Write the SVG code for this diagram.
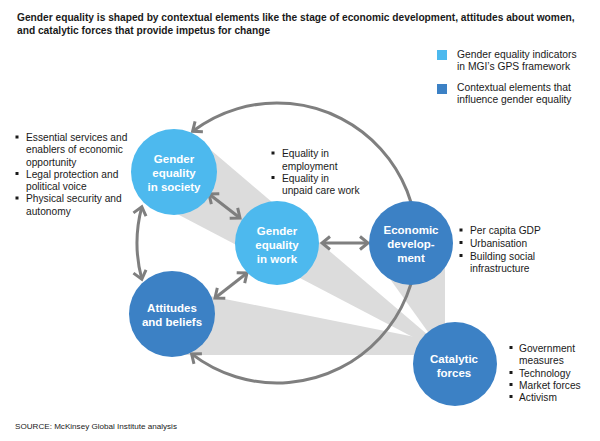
<svg xmlns="http://www.w3.org/2000/svg" width="600" height="441" viewBox="0 0 600 441">
<defs>
<style>
.t{font-family:"Liberation Sans",Arial,sans-serif;fill:#1a1a1a}
.title{font-size:10.2px;font-weight:bold}
.lg{font-size:10.3px}
.b{font-size:10.2px}
.src{font-size:8.1px}
.nl{font-family:"Liberation Sans",Arial,sans-serif;font-size:11.5px;font-weight:bold;fill:#fff;text-anchor:middle}
.light{fill:#4db9ee}
.dark{fill:#3c81c5}
.beam{fill:#dcdcdc}
.con{fill:none;stroke:#7f7f7f;stroke-width:3}
.dot{fill:#1a1a1a}
</style>
<marker id="ah" markerUnits="userSpaceOnUse" markerWidth="20" markerHeight="20" refX="0" refY="0" viewBox="-12 -10 14 20" orient="auto-start-reverse">
<path d="M -8 -6.5 L 0 0 L -8 6.5" fill="none" stroke="#7f7f7f" stroke-width="3" stroke-linejoin="miter"/>
</marker>
</defs>
<rect width="600" height="441" fill="#fff"/>
<text class="t title" x="17" y="21">Gender equality is shaped by contextual elements like the stage of economic development, attitudes about women,</text>
<text class="t title" x="17" y="34">and catalytic forces that provide impetus for change</text>
<g id="legend">
<rect class="light" x="437" y="50" width="10" height="10"/>
<text class="t lg" x="457" y="58">Gender equality indicators</text>
<text class="t lg" x="457" y="70">in MGI’s GPS framework</text>
<rect class="dark" x="437" y="84" width="10" height="10"/>
<text class="t lg" x="457" y="91">Contextual elements that</text>
<text class="t lg" x="457" y="103">influence gender equality</text>
</g>
<g id="beams">
<polygon class="beam" points="205,145 428,335 428,345 160,205"/>
<polygon class="beam" points="180,290 430,340 430,355 180,355"/>
<polygon class="beam" points="380,265 445,243 445,340 428,332"/>
</g>
<g id="connectors">
<path class="con" d="M 191.6 353.9 A 140 140 0 1 0 192.6 131.3" marker-start="url(#ah)" marker-end="url(#ah)"/>
<path class="con" d="M 141.8 206.8 A 140 140 0 0 0 141.8 279.2" marker-start="url(#ah)" marker-end="url(#ah)"/>
<line class="con" x1="209" y1="194" x2="240" y2="218" marker-start="url(#ah)" marker-end="url(#ah)"/>
<line class="con" x1="322" y1="243" x2="368" y2="243" marker-start="url(#ah)" marker-end="url(#ah)"/>
<line class="con" x1="247" y1="273" x2="215" y2="298" marker-start="url(#ah)" marker-end="url(#ah)"/>
</g>
<g id="society">
<circle class="light" cx="174" cy="172" r="43"/>
<text class="nl" x="174" y="163">Gender</text>
<text class="nl" x="174" y="177">equality</text>
<text class="nl" x="174" y="191">in society</text>
</g>
<g id="work">
<circle class="light" cx="277" cy="243" r="42"/>
<text class="nl" x="277" y="235">Gender</text>
<text class="nl" x="277" y="249">equality</text>
<text class="nl" x="277" y="263">in work</text>
</g>
<g id="economic">
<circle class="dark" cx="411" cy="243" r="42"/>
<text class="nl" x="411" y="234">Economic</text>
<text class="nl" x="411" y="248">develop-</text>
<text class="nl" x="411" y="262">ment</text>
</g>
<g id="attitudes">
<circle class="dark" cx="172" cy="314" r="43"/>
<text class="nl" x="172" y="312">Attitudes</text>
<text class="nl" x="172" y="326">and beliefs</text>
</g>
<g id="catalytic">
<circle class="dark" cx="455" cy="364" r="42"/>
<text class="nl" x="454" y="363">Catalytic</text>
<text class="nl" x="454" y="377">forces</text>
</g>
<g id="society-bullets">
<rect class="dot" x="15.5" y="135.5" width="3" height="3"/>
<text class="t b" x="26" y="141">Essential services and</text>
<text class="t b" x="26" y="153">enablers of economic</text>
<text class="t b" x="26" y="165.5">opportunity</text>
<rect class="dot" x="15.5" y="172" width="3" height="3"/>
<text class="t b" x="26" y="177.5">Legal protection and</text>
<text class="t b" x="26" y="190">political voice</text>
<rect class="dot" x="15.5" y="196.5" width="3" height="3"/>
<text class="t b" x="26" y="202">Physical security and</text>
<text class="t b" x="26" y="214.5">autonomy</text>
</g>
<g id="work-bullets">
<rect class="dot" x="271.5" y="151.5" width="3" height="3"/>
<text class="t b" x="282" y="157">Equality in</text>
<text class="t b" x="282" y="169.5">employment</text>
<rect class="dot" x="271.5" y="176" width="3" height="3"/>
<text class="t b" x="282" y="181.5">Equality in</text>
<text class="t b" x="282" y="193.5">unpaid care work</text>
</g>
<g id="economic-bullets">
<rect class="dot" x="459.5" y="228.5" width="3" height="3"/>
<text class="t b" x="470" y="234">Per capita GDP</text>
<rect class="dot" x="459.5" y="241" width="3" height="3"/>
<text class="t b" x="470" y="246.5">Urbanisation</text>
<rect class="dot" x="459.5" y="254" width="3" height="3"/>
<text class="t b" x="470" y="259.5">Building social</text>
<text class="t b" x="470" y="271.5">infrastructure</text>
</g>
<g id="catalytic-bullets">
<rect class="dot" x="509.5" y="346" width="3" height="3"/>
<text class="t b" x="519" y="351.5">Government</text>
<text class="t b" x="519" y="364">measures</text>
<rect class="dot" x="509.5" y="371" width="3" height="3"/>
<text class="t b" x="519" y="376.5">Technology</text>
<rect class="dot" x="509.5" y="383" width="3" height="3"/>
<text class="t b" x="519" y="388.5">Market forces</text>
<rect class="dot" x="509.5" y="395" width="3" height="3"/>
<text class="t b" x="519" y="400.5">Activism</text>
</g>
<text class="t src" x="15" y="429">SOURCE:  McKinsey Global Institute analysis</text>
</svg>
